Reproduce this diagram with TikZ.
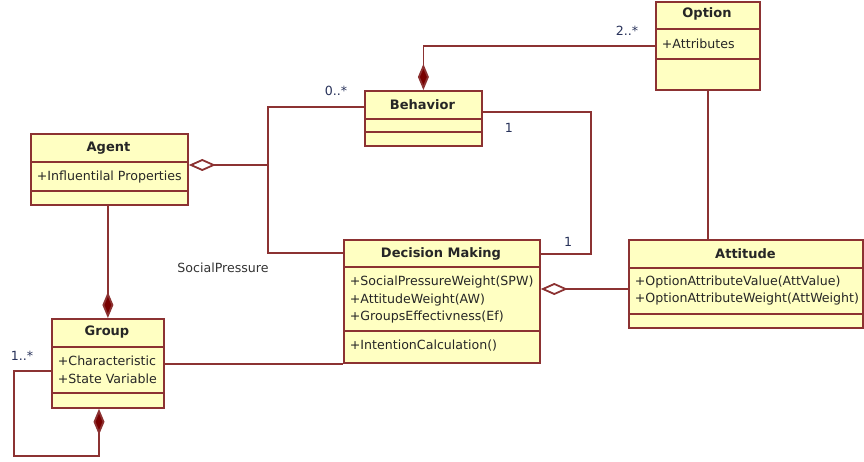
\documentclass[tikz,border=0pt]{standalone}
\usepackage{fontspec}
\setmainfont{DejaVu Sans}
\usetikzlibrary{arrows.meta}
\definecolor{umlline}{RGB}{140,50,50}
\definecolor{umlfill}{RGB}{255,255,194}
\definecolor{umldiam}{RGB}{120,0,0}
\definecolor{multcol}{RGB}{40,50,90}

\begin{document}
\begin{tikzpicture}[x=1pt,y=-1pt,line width=1.8pt,
  classbox/.style={draw=umlline,fill=umlfill,anchor=north west,inner sep=0pt},
  classname/.style={font=\fontsize{13}{15}\selectfont\bfseries,text=black!85},
  classattr/.style={font=\fontsize{12.6}{15}\selectfont,anchor=west,text=black!85,inner sep=0pt},
  mult/.style={font=\fontsize{12.6}{15}\selectfont,text=multcol},
  assoc/.style={draw=umlline},
  comp/.style={draw=umlline,-{Diamond[length=26pt,width=11pt,fill=umldiam]}},
  aggr/.style={draw=umlline,-{Diamond[open,length=27pt,width=12pt]}}]
  \useasboundingbox (0,0) rectangle (864,462);
  \node[classbox,minimum width=104pt,minimum height=88pt] (option) at (655,1) {};
  \draw[assoc] (option.west |- 0,29) -- (option.east |- 0,29);
  \draw[assoc] (option.west |- 0,59) -- (option.east |- 0,59);
  \node[classbox,minimum width=117pt,minimum height=55pt] (behavior) at (364,90) {};
  \draw[assoc] (behavior.west |- 0,119) -- (behavior.east |- 0,119);
  \draw[assoc] (behavior.west |- 0,132) -- (behavior.east |- 0,132);
  \node[classbox,minimum width=157pt,minimum height=71pt] (agent) at (30,133) {};
  \draw[assoc] (agent.west |- 0,162) -- (agent.east |- 0,162);
  \draw[assoc] (agent.west |- 0,191) -- (agent.east |- 0,191);
  \node[classbox,minimum width=112pt,minimum height=89pt] (group) at (51,318) {};
  \draw[assoc] (group.west |- 0,347) -- (group.east |- 0,347);
  \draw[assoc] (group.west |- 0,393) -- (group.east |- 0,393);
  \node[classbox,minimum width=196pt,minimum height=123pt] (decision) at (343,239) {};
  \draw[assoc] (decision.west |- 0,267) -- (decision.east |- 0,267);
  \draw[assoc] (decision.west |- 0,331) -- (decision.east |- 0,331);
  \node[classbox,minimum width=234pt,minimum height=88pt] (attitude) at (628,239) {};
  \draw[assoc] (attitude.west |- 0,268) -- (attitude.east |- 0,268);
  \draw[assoc] (attitude.west |- 0,314) -- (attitude.east |- 0,314);
  \node[classname] (optionname) at (707,14) {Option};
  \node[classname] (behaviorname) at (422.5,105) {Behavior};
  \node[classname] (agentname) at (108.5,148) {Agent};
  \node[classname] (groupname) at (107,332) {Group};
  \node[classname] (decisionname) at (441,254) {Decision Making};
  \node[classname] (attitudename) at (745.5,254) {Attitude};
  \node[classattr] (optattr) at (661,44) {+Attributes};
  \node[classattr] (agentattr) at (36,177) {+Influentilal Properties};
  \node[classattr] (grpattra) at (57,361) {+Characteristic};
  \node[classattr] (grpattrb) at (57,379) {+State Variable};
  \node[classattr] (decattra) at (349,282) {+SocialPressureWeight(SPW)};
  \node[classattr] (decattrb) at (349,300) {+AttitudeWeight(AW)};
  \node[classattr] (decattrc) at (349,317) {+GroupsEffectivness(Ef)};
  \node[classattr] (decop) at (349,346) {+IntentionCalculation()};
  \node[classattr] (attattra) at (634,282) {+OptionAttributeValue(AttValue)};
  \node[classattr] (attattrb) at (634,299) {+OptionAttributeWeight(AttWeight)};
  \coordinate (spjoin) at (268,165);
  \draw[comp] (option.west |- 0,46) -| (behavior.north);
  \draw[assoc] (behavior.west |- 0,107) -| (spjoin) |- (decision.west |- 0,253);
  \draw[aggr] (spjoin) -- (agent.east |- spjoin);
  \draw[assoc] (behavior.east |- 0,112) -| (591,254) -- (decision.east |- 0,254);
  \draw[assoc] (option.south) -- (attitude.north -| option.south);
  \draw[aggr] (attitude.west |- 0,289) -- (decision.east |- 0,289);
  \draw[comp] (agent.south -| group.north) -- (group.north);
  \draw[assoc] (group.east |- decision.south west) -- (decision.south west);
  \draw[comp] (group.west |- 0,371) -- (14,371) -- (14,456) -| (group.south -| 99,0);
  \node[mult] (m2) at (627,31) {2..*};
  \node[mult] (m0) at (336,91) {0..*};
  \node[mult] (m1a) at (509,128) {1};
  \node[mult] (m1b) at (568,242) {1};
  \node[mult] (m1s) at (22,356) {1..*};
  \node[font=\fontsize{12.6}{15}\selectfont,text=black!80] (splabel) at (223,268) {SocialPressure};
\end{tikzpicture}
\end{document}
